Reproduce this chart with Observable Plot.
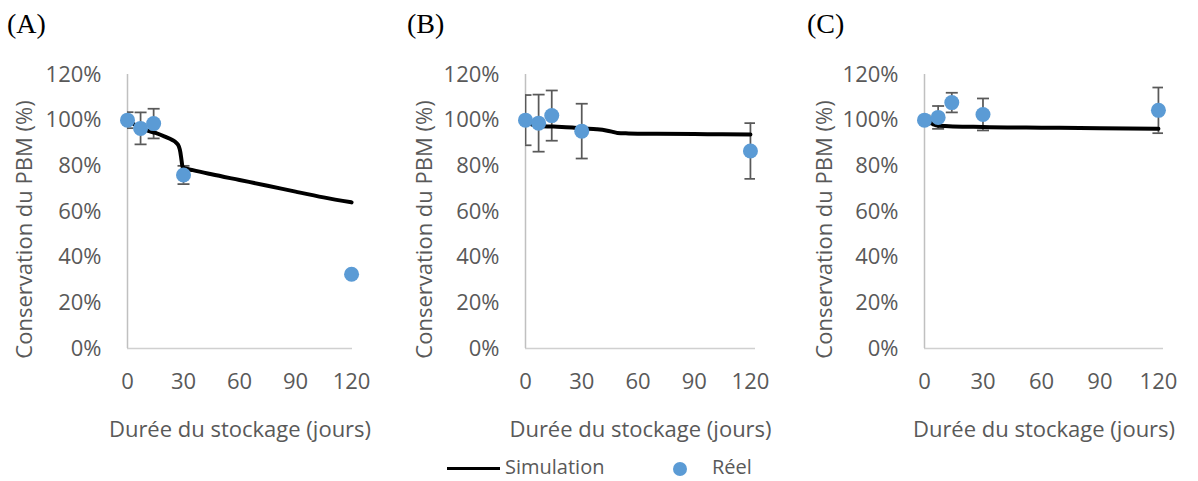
<!DOCTYPE html>
<html><head><meta charset="utf-8">
<script src="https://cdn.jsdelivr.net/npm/d3@7"></script>
<script src="https://cdn.jsdelivr.net/npm/@observablehq/plot@0.6"></script>
<style>
body{margin:0;background:#fff;}
#wrap{position:relative;width:1198px;height:481px;font-family:"Open Sans",sans-serif;}
.panel{position:absolute;top:0;}
.panel svg, .panel svg g, .panel svg text{font-family:"Open Sans",sans-serif !important;font-size:22px !important;}
.tag{position:absolute;top:10px;font-family:"Liberation Serif","Times New Roman",serif;font-size:28px;color:#000;line-height:1;}
#legend{position:absolute;left:0;top:453px;width:1198px;height:27px;font-family:"Open Sans",sans-serif;font-size:20px;color:#595959;}
#legend .ln{position:absolute;left:447px;top:14px;width:53px;height:0;border-top:3.5px solid #000;}
#legend .dt{position:absolute;left:673px;top:9px;width:14px;height:14px;border-radius:50%;background:#5b9bd5;}
#legend .t{position:absolute;top:0;white-space:nowrap;line-height:normal;}
</style></head>
<body><div id="wrap"></div>
<script>
// ---- data ----
const panelLabels = ["(A)", "(B)", "(C)"];
const xTicks = [0, 30, 60, 90, 120];
const yTicks = [0, 0.2, 0.4, 0.6, 0.8, 1.0, 1.2];
const xTitle = "Durée du stockage (jours)";
const yTitle = "Conservation du PBM (%)";
const legendLabels = ["Simulation", "Réel"];

const obsDays = [0, 7, 14, 30, 120];
const obsA = [1.00, 0.964, 0.985, 0.760, 0.325];
const errA = [0.035, 0.070, 0.065, 0.040, 0.010];
const obsB = [1.00, 0.987, 1.020, 0.952, 0.865];
const errB = [0.110, 0.125, 0.110, 0.120, 0.122];
const obsC = [1.00, 1.012, 1.077, 1.025, 1.043];
const errC = [0.020, 0.050, 0.043, 0.070, 0.100];

const simDaysA = [0, 5, 10, 15, 20, 24, 26, 27.5, 28.3, 29, 29.5, 31, 35, 45, 60, 75, 90, 105, 120];
const simA     = [1.00, 0.975, 0.956, 0.944, 0.928, 0.913, 0.902, 0.885, 0.86, 0.82, 0.795, 0.789, 0.781, 0.763, 0.738, 0.713, 0.687, 0.662, 0.640];
const simDaysB = [0, 3, 7, 15, 25, 30, 38, 43, 46, 49, 55, 70, 90, 105, 120];
const simB     = [1.00, 0.982, 0.974, 0.972, 0.968, 0.964, 0.960, 0.955, 0.950, 0.944, 0.942, 0.940, 0.939, 0.938, 0.937];
const simDaysC = [0, 3, 5, 7, 30, 60, 90, 120];
const simC     = [1.00, 0.990, 0.980, 0.976, 0.970, 0.967, 0.965, 0.962];

// ---- layout per panel ----
const layouts = [
  {left: 0,   width: 400, marginLeft: 127, marginRight: 48, xEnd: 120.5},
  {left: 400, width: 400, marginLeft: 125, marginRight: 45, xEnd: 122.7},
  {left: 800, width: 398, marginLeft: 124, marginRight: 35, xEnd: 122.6}
];
const sims = [[simDaysA, simA], [simDaysB, simB], [simDaysC, simC]];
const obs = [[obsA, errA], [obsB, errB], [obsC, errC]];

const capSymbol = {draw(ctx) { ctx.moveTo(-6, 0); ctx.lineTo(6, 0); }};
const wrap = document.getElementById("wrap");

layouts.forEach((L, i) => {
  const simData = sims[i][0].map((d, j) => ({day: d, v: sims[i][1][j]}));
  const obsData = obsDays.map((d, j) => ({day: d, v: obs[i][0][j], e: obs[i][1][j]}));
  const chart = Plot.plot({
    width: L.width, height: 445,
    marginLeft: L.marginLeft, marginRight: L.marginRight, marginTop: 74, marginBottom: 97,
    style: {fontFamily: "'Open Sans', sans-serif", fontSize: "22px", color: "#595959", background: "transparent", overflow: "visible"},
    x: {domain: [0, L.xEnd], ticks: xTicks, tickSize: 0, tickPadding: 25, label: null},
    y: {domain: [0, 1.2], ticks: yTicks, tickFormat: d3.format(".0%"), tickSize: 0, tickPadding: 26, label: null},
    marks: [
      Plot.ruleY([0], {stroke: "#d0d0d0", strokeWidth: 1.5}),
      Plot.ruleX([0], {stroke: "#c0c0c0", strokeWidth: 1.5}),
      Plot.ruleX(obsData, {x: "day", y1: d => d.v - d.e, y2: d => d.v + d.e, stroke: "#595959", strokeWidth: 1.75, clip: true}),
      Plot.dot(obsData, {x: "day", y: d => d.v + d.e, symbol: capSymbol, r: 6, stroke: "#595959", strokeWidth: 1.75, clip: true}),
      Plot.dot(obsData, {x: "day", y: d => d.v - d.e, symbol: capSymbol, r: 6, stroke: "#595959", strokeWidth: 1.75, clip: true}),
      Plot.line(simData, {x: "day", y: "v", stroke: "#000", strokeWidth: 4, curve: "monotone-x"}),
      Plot.dot(obsData, {x: "day", y: "v", r: 7.5, fill: "#5b9bd5"}),
      Plot.text([xTitle], {text: d => d, frameAnchor: "bottom", textAnchor: "middle", dy: 88, fill: "#595959"}),
      Plot.text([yTitle], {text: d => d, frameAnchor: "left", textAnchor: "middle", dx: -(L.marginLeft - 24), dy: 18, rotate: -90, fill: "#595959"})
    ]
  });
  const div = document.createElement("div");
  div.className = "panel";
  div.style.left = L.left + "px";
  div.appendChild(chart);
  wrap.appendChild(div);
  const tag = document.createElement("div");
  tag.className = "tag";
  tag.style.left = (L.left + 7) + "px";
  tag.textContent = panelLabels[i];
  wrap.appendChild(tag);
});

const legend = document.createElement("div");
legend.id = "legend";
legend.innerHTML = '<div class="ln"></div><div class="t" style="left:505px"></div><div class="dt"></div><div class="t" style="left:712px"></div>';
const ts = legend.querySelectorAll(".t");
ts[0].textContent = legendLabels[0];
ts[1].textContent = legendLabels[1];
wrap.appendChild(legend);
</script>
</body></html>
